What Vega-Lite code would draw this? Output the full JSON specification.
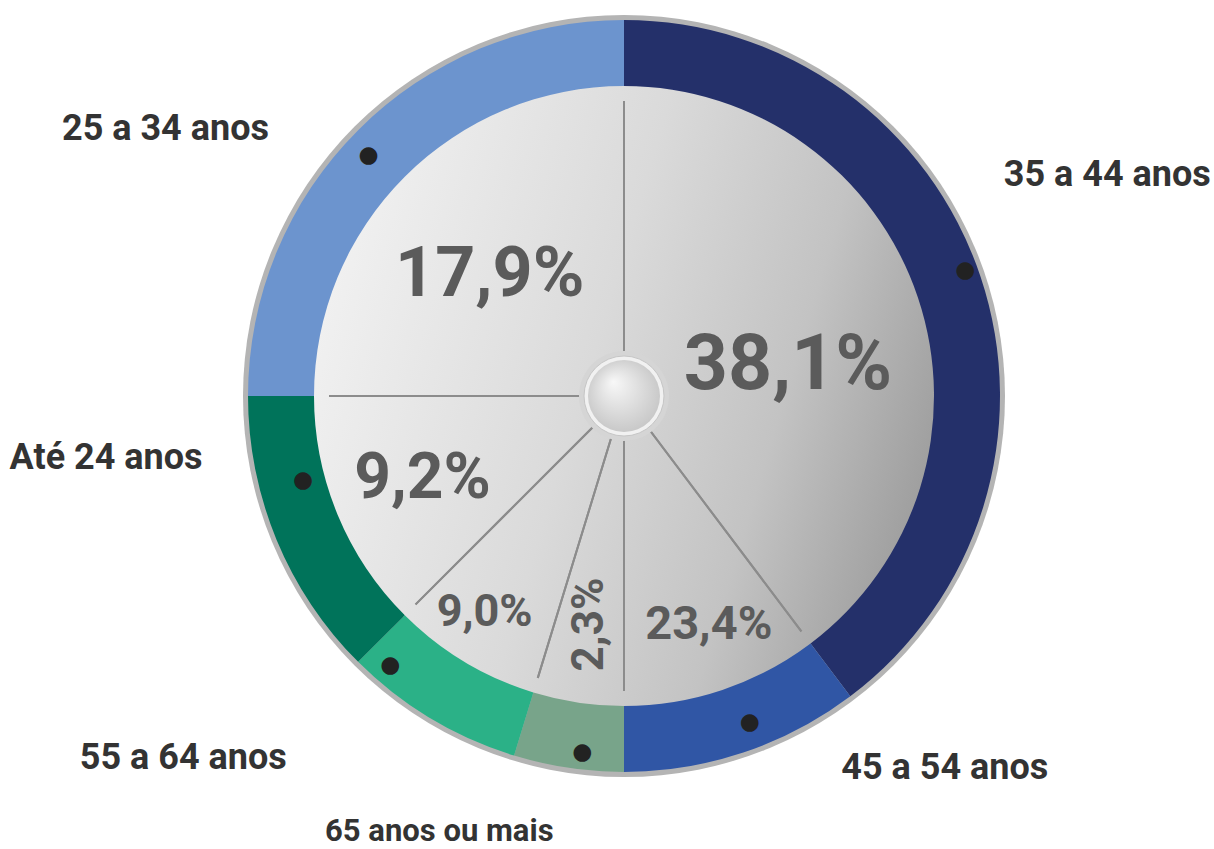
{
  "$schema": "https://vega.github.io/schema/vega-lite/v6.json",
  "autosize": "none",
  "width": 1180,
  "height": 792,
  "padding": {"left": 34, "top": 0, "right": 0, "bottom": 57},
  "background": "#ffffff",
  "config": {"view": {"stroke": null}, "text": {"font": "Roboto", "fontWeight": "bold", "align": "center", "baseline": "middle"}},
  "data": {"values": [
    {"age": "35 a 44 anos", "pct": "38,1%", "share": 143, "ord": 1},
    {"age": "45 a 54 anos", "pct": "23,4%", "share": 37, "ord": 2},
    {"age": "65 anos ou mais", "pct": "2,3%", "share": 17, "ord": 3},
    {"age": "55 a 64 anos", "pct": "9,0%", "share": 28, "ord": 4},
    {"age": "Até 24 anos", "pct": "9,2%", "share": 45, "ord": 5},
    {"age": "25 a 34 anos", "pct": "17,9%", "share": 90, "ord": 6}
  ]},
  "layer": [
    {"data": {"values": [{"k": "border"}]}, "mark": {"type": "arc", "theta": 0, "theta2": 6.2832, "radius": 381, "radius2": 0, "fill": "#b4b4b4"}, "encoding": {}},
    {"data": {"values": [{"k": "disc"}]}, "mark": {"type": "arc", "theta": 0, "theta2": 6.2832, "radius": 312, "radius2": 0,
      "fill": {"gradient": "linear", "x1": 0, "y1": 0.3, "x2": 1, "y2": 0.6, "stops": [
        {"offset": 0, "color": "#f2f2f2"}, {"offset": 0.45, "color": "#dadada"}, {"offset": 0.75, "color": "#c3c3c3"}, {"offset": 1, "color": "#9e9e9e"}]}}, "encoding": {}},
    {"mark": {"type": "arc", "radius": 300, "radius2": 0, "fillOpacity": 0, "stroke": "#8c8c8c", "strokeWidth": 2},
      "encoding": {"theta": {"field": "share", "type": "quantitative", "stack": true}, "order": {"field": "ord", "type": "quantitative"}}},
    {"data": {"values": [{"k": "gap"}]}, "mark": {"type": "arc", "theta": 0, "theta2": 6.2832, "radius": 312, "radius2": 295,
      "fill": {"gradient": "linear", "x1": 0, "y1": 0.3, "x2": 1, "y2": 0.6, "stops": [
        {"offset": 0, "color": "#f2f2f2"}, {"offset": 0.45, "color": "#dadada"}, {"offset": 0.75, "color": "#c3c3c3"}, {"offset": 1, "color": "#9e9e9e"}]}}, "encoding": {}},
    {"mark": {"type": "arc", "radius": 376, "radius2": 310},
      "encoding": {"theta": {"field": "share", "type": "quantitative", "stack": true}, "order": {"field": "ord", "type": "quantitative"},
        "color": {"field": "age", "type": "nominal", "legend": null, "scale": {
          "domain": ["35 a 44 anos", "45 a 54 anos", "65 anos ou mais", "55 a 64 anos", "Até 24 anos", "25 a 34 anos"],
          "range": ["#24306A", "#3056A5", "#78A48A", "#2BB187", "#00735A", "#6C94CE"]}}}},
    {"data": {"values": [{"k": "cover"}]}, "mark": {"type": "arc", "theta": 0, "theta2": 6.2832, "radius": 45, "radius2": 0, "fill": "#d5d5d5"}, "encoding": {}},
    {"data": {"values": [{"k": "ring"}]}, "mark": {"type": "arc", "theta": 0, "theta2": 6.2832, "radius": 40, "radius2": 0, "fill": "#f1f1f1", "stroke": "#c6c6c6", "strokeWidth": 1}, "encoding": {}},
    {"data": {"values": [{"k": "button"}]}, "mark": {"type": "arc", "theta": 0, "theta2": 6.2832, "radius": 36, "radius2": 0,
      "fill": {"gradient": "radial", "x1": 0.35, "y1": 0.3, "r1": 0, "x2": 0.5, "y2": 0.5, "r2": 0.6, "stops": [
        {"offset": 0, "color": "#f8f8f8"}, {"offset": 1, "color": "#c2c2c2"}]}}, "encoding": {}},

    {"mark": {"type": "text", "radius": 173, "dy": 25, "fontSize": 77, "color": "#5b5b5b"},
      "encoding": {"theta": {"field": "share", "type": "quantitative", "stack": true}, "order": {"field": "ord", "type": "quantitative"},
        "text": {"condition": {"test": "datum.age === '35 a 44 anos'", "field": "pct", "type": "nominal"}, "value": ""}}},
    {"mark": {"type": "text", "radius": 180, "dx": -7, "dy": 6, "fontSize": 70, "color": "#5b5b5b"},
      "encoding": {"theta": {"field": "share", "type": "quantitative", "stack": true}, "order": {"field": "ord", "type": "quantitative"},
        "text": {"condition": {"test": "datum.age === '25 a 34 anos'", "field": "pct", "type": "nominal"}, "value": ""}}},
    {"mark": {"type": "text", "radius": 218, "fontSize": 64, "color": "#5b5b5b"},
      "encoding": {"theta": {"field": "share", "type": "quantitative", "stack": true}, "order": {"field": "ord", "type": "quantitative"},
        "text": {"condition": {"test": "datum.age === 'Até 24 anos'", "field": "pct", "type": "nominal"}, "value": ""}}},
    {"mark": {"type": "text", "radius": 257, "dx": -7, "dy": -4, "fontSize": 45, "color": "#5b5b5b"},
      "encoding": {"theta": {"field": "share", "type": "quantitative", "stack": true}, "order": {"field": "ord", "type": "quantitative"},
        "text": {"condition": {"test": "datum.age === '55 a 64 anos'", "field": "pct", "type": "nominal"}, "value": ""}}},
    {"mark": {"type": "text", "radius": 231, "fontSize": 44, "angle": 270, "color": "#5b5b5b"},
      "encoding": {"theta": {"field": "share", "type": "quantitative", "stack": true}, "order": {"field": "ord", "type": "quantitative"},
        "text": {"condition": {"test": "datum.age === '65 anos ou mais'", "field": "pct", "type": "nominal"}, "value": ""}}},
    {"mark": {"type": "text", "radius": 242, "dx": 8, "fontSize": 47, "color": "#5b5b5b"},
      "encoding": {"theta": {"field": "share", "type": "quantitative", "stack": true}, "order": {"field": "ord", "type": "quantitative"},
        "text": {"condition": {"test": "datum.age === '45 a 54 anos'", "field": "pct", "type": "nominal"}, "value": ""}}},

    {"mark": {"type": "text", "radius": 343, "dx": -13, "dy": 2, "fontSize": 23, "font": "DejaVu Sans", "color": "#222222"},
      "encoding": {"theta": {"field": "share", "type": "quantitative", "stack": true}, "order": {"field": "ord", "type": "quantitative"},
        "text": {"condition": {"test": "datum.age === '25 a 34 anos'", "value": "●"}, "value": ""}}},
    {"mark": {"type": "text", "radius": 343, "dx": 16, "dy": -17, "fontSize": 23, "font": "DejaVu Sans", "color": "#222222"},
      "encoding": {"theta": {"field": "share", "type": "quantitative", "stack": true}, "order": {"field": "ord", "type": "quantitative"},
        "text": {"condition": {"test": "datum.age === '35 a 44 anos'", "value": "●"}, "value": ""}}},
    {"mark": {"type": "text", "radius": 343, "dx": 17, "dy": 1, "fontSize": 23, "font": "DejaVu Sans", "color": "#222222"},
      "encoding": {"theta": {"field": "share", "type": "quantitative", "stack": true}, "order": {"field": "ord", "type": "quantitative"},
        "text": {"condition": {"test": "datum.age === '45 a 54 anos'", "value": "●"}, "value": ""}}},
    {"mark": {"type": "text", "radius": 343, "dx": 9, "dy": 17, "fontSize": 23, "font": "DejaVu Sans", "color": "#222222"},
      "encoding": {"theta": {"field": "share", "type": "quantitative", "stack": true}, "order": {"field": "ord", "type": "quantitative"},
        "text": {"condition": {"test": "datum.age === '65 anos ou mais'", "value": "●"}, "value": ""}}},
    {"mark": {"type": "text", "radius": 343, "dx": -57, "dy": -25, "fontSize": 23, "font": "DejaVu Sans", "color": "#222222"},
      "encoding": {"theta": {"field": "share", "type": "quantitative", "stack": true}, "order": {"field": "ord", "type": "quantitative"},
        "text": {"condition": {"test": "datum.age === '55 a 64 anos'", "value": "●"}, "value": ""}}},
    {"mark": {"type": "text", "radius": 343, "dx": -4, "dy": -47, "fontSize": 23, "font": "DejaVu Sans", "color": "#222222"},
      "encoding": {"theta": {"field": "share", "type": "quantitative", "stack": true}, "order": {"field": "ord", "type": "quantitative"},
        "text": {"condition": {"test": "datum.age === 'Até 24 anos'", "value": "●"}, "value": ""}}},

    {"mark": {"type": "text", "radius": 343, "dx": -216, "dy": -24, "fontSize": 36, "color": "#333333"},
      "encoding": {"theta": {"field": "share", "type": "quantitative", "stack": true}, "order": {"field": "ord", "type": "quantitative"},
        "text": {"condition": {"test": "datum.age === '25 a 34 anos'", "field": "age", "type": "nominal"}, "value": ""}}},
    {"mark": {"type": "text", "radius": 343, "dx": 158, "dy": -112, "fontSize": 36, "color": "#333333"},
      "encoding": {"theta": {"field": "share", "type": "quantitative", "stack": true}, "order": {"field": "ord", "type": "quantitative"},
        "text": {"condition": {"test": "datum.age === '35 a 44 anos'", "field": "age", "type": "nominal"}, "value": ""}}},
    {"mark": {"type": "text", "radius": 343, "dx": 212, "dy": 47, "fontSize": 36, "color": "#333333"},
      "encoding": {"theta": {"field": "share", "type": "quantitative", "stack": true}, "order": {"field": "ord", "type": "quantitative"},
        "text": {"condition": {"test": "datum.age === '45 a 54 anos'", "field": "age", "type": "nominal"}, "value": ""}}},
    {"mark": {"type": "text", "radius": 343, "dx": -134, "dy": 97, "fontSize": 31, "color": "#333333"},
      "encoding": {"theta": {"field": "share", "type": "quantitative", "stack": true}, "order": {"field": "ord", "type": "quantitative"},
        "text": {"condition": {"test": "datum.age === '65 anos ou mais'", "field": "age", "type": "nominal"}, "value": ""}}},
    {"mark": {"type": "text", "radius": 343, "dx": -264, "dy": 68, "fontSize": 36, "color": "#333333"},
      "encoding": {"theta": {"field": "share", "type": "quantitative", "stack": true}, "order": {"field": "ord", "type": "quantitative"},
        "text": {"condition": {"test": "datum.age === '55 a 64 anos'", "field": "age", "type": "nominal"}, "value": ""}}},
    {"mark": {"type": "text", "radius": 343, "dx": -201, "dy": -69, "fontSize": 36, "color": "#333333"},
      "encoding": {"theta": {"field": "share", "type": "quantitative", "stack": true}, "order": {"field": "ord", "type": "quantitative"},
        "text": {"condition": {"test": "datum.age === 'Até 24 anos'", "field": "age", "type": "nominal"}, "value": ""}}}
  ]
}
